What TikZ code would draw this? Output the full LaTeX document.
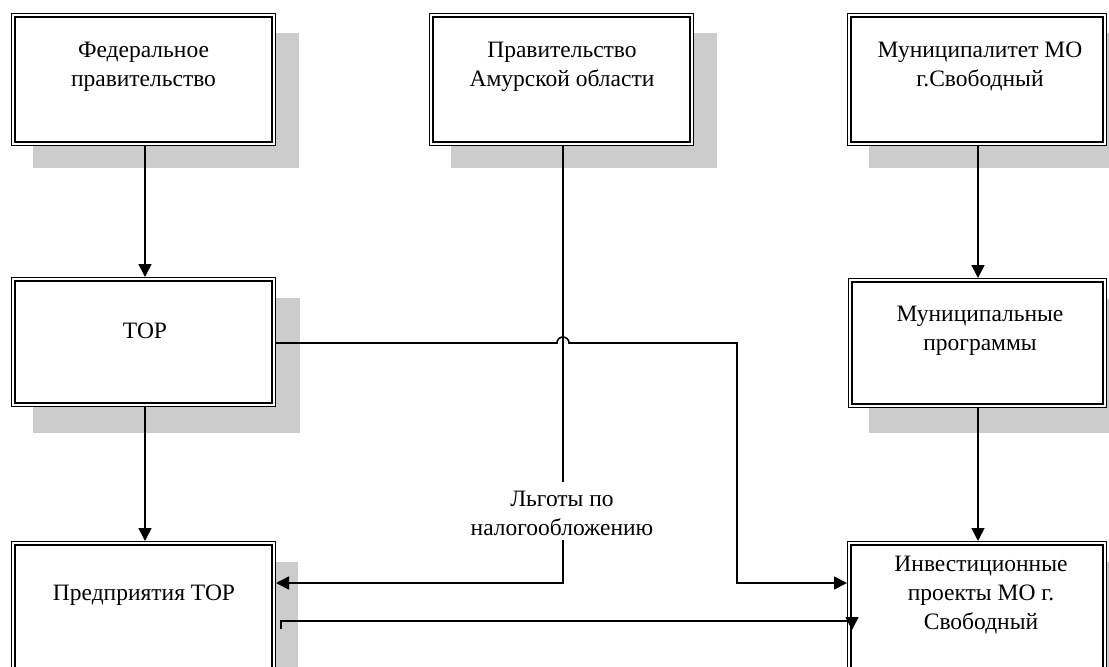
\documentclass[tikz,border=0pt]{standalone}
\usepackage{fontspec}
\setmainfont{Liberation Serif}
\usetikzlibrary{arrows.meta}
\tikzset{
  shadowbox/.style={fill=black!20, draw=none},
  dblbox/.style={draw, fill=white, line width=1.4pt, double, double distance=1.8pt,
    inner sep=0pt, outer sep=2.3pt},
  txt/.style={align=center, inner sep=0pt, font=\fontsize{23.5}{29}\selectfont},
  conn/.style={line width=1.6pt},
  arr/.style={conn, -{Triangle[length=13pt,width=13pt]}},
}
\begin{document}
\begin{tikzpicture}[x=1pt,y=-1pt]
\useasboundingbox (0,0) rectangle (1109,667);
\clip (0,0) rectangle (1109,667);
% shadows
\fill[shadowbox] (33,33) rectangle (299,168);
\fill[shadowbox] (451,33) rectangle (717,168);
\fill[shadowbox] (869,33) rectangle (1130,168);
\fill[shadowbox] (33,298) rectangle (300,433);
\fill[shadowbox] (869,299) rectangle (1130,433);
\fill[shadowbox] (33,562) rectangle (298,700);
\fill[shadowbox] (869,562) rectangle (1130,700);
% boxes
\node[dblbox, minimum width=260.4pt, minimum height=128.4pt] (fed) at (143.5,79.5) {};
\node[dblbox, minimum width=260.4pt, minimum height=128.4pt] (amur) at (561.5,79.5) {};
\node[dblbox, minimum width=255.4pt, minimum height=128.4pt] (muni) at (977,79.5) {};
\node[dblbox, minimum width=260.4pt, minimum height=125.4pt] (tor) at (143.5,342) {};
\node[dblbox, minimum width=254.4pt, minimum height=125.4pt] (prog) at (977.5,343) {};
\node[dblbox, minimum width=260.4pt, minimum height=134.4pt] (ent) at (143.5,610.5) {};
\node[dblbox, minimum width=255.4pt, minimum height=134.4pt] (inv) at (977,610.5) {};
% texts
\node[txt] (fedt) at (143.5,67) {Федеральное\\правительство};
\node[txt] (amurt) at (562,67) {Правительство\\Амурской области};
\node[txt] (munit) at (980,66) {Муниципалитет МО\\г.Свободный};
\node[txt] (tort) at (145,331) {ТОР};
\node[txt] (progt) at (980,331) {Муниципальные\\программы};
\node[txt] (entt) at (144,595) {Предприятия ТОР};
\node[txt] (invt) at (981,595) {Инвестиционные\\проекты МО г.\\Свободный};
\node[txt] (lgot) at (562,513) {Льготы по\\налогообложению};
% coordinates
\coordinate (cl) at (145,0);
\coordinate (cr) at (978,0);
\coordinate (a1) at (563,482);
\coordinate (a2) at (563,540);
\coordinate (a3) at (563,583);
\coordinate (h1) at (557,343);
\coordinate (t1) at (737,343);
\coordinate (t2) at (737,583);
\coordinate (e1) at (281,629);
\coordinate (e2) at (281,621);
\coordinate (e3) at (852,621);
\coordinate (e4) at (852,630);
% connectors
\draw[arr] (fed.south -| cl) -- (tor.north -| cl);
\draw[arr] (tor.south -| cl) -- (ent.north -| cl);
\draw[arr] (muni.south -| cr) -- (prog.north -| cr);
\draw[arr] (prog.south -| cr) -- (inv.north -| cr);
\draw[conn] (amur.south -| a1) -- (a1);
\draw[arr] (a2) -- (a3) -- (a3 -| ent.east);
\draw[arr] (tor.east |- h1) -- (h1) arc (180:360:6) -- (t1) -- (t2) -- (t2 -| inv.west);
\draw[arr] (e1) -- (e2) -- (e3) -- (e4);
\end{tikzpicture}
\end{document}
